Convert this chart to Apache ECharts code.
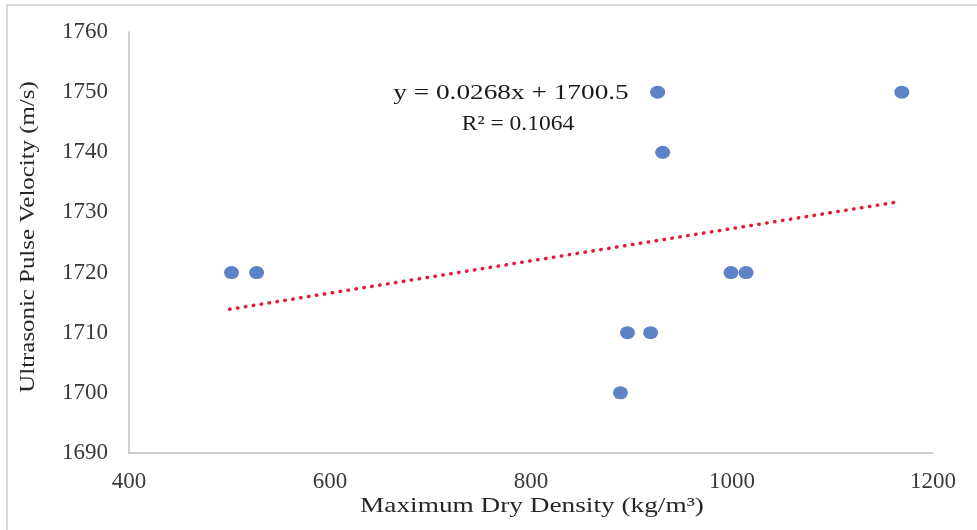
<!DOCTYPE html>
<html>
<head>
<meta charset="utf-8">
<script src="https://cdn.jsdelivr.net/npm/echarts@6/dist/echarts.min.js"></script>
<style>
  html, body { margin: 0; padding: 0; background: #fff; }
  #chart { width: 977px; height: 530px; }
</style>
</head>
<body>
<div id="chart"></div>
<script>
// measured points (density kg/m3, velocity m/s)
const density = [502, 527, 889, 896, 919, 926, 931, 999, 1014, 1169];
const velocity = [1720, 1720, 1700, 1710, 1710, 1750, 1740, 1720, 1720, 1750];
// linear trend line end points
const trendX = [500, 1167];
const trendY = [1713.9, 1731.8];
const equation = 'y = 0.0268x + 1700.5';
const rSquared = 'R² = 0.1064';
const xTitle = 'Maximum Dry Density (kg/m³)';
const yTitle = 'Ultrasonic Pulse Velocity (m/s)';

const font = '"Liberation Serif", "Times New Roman", serif';

let points = [];
for (let i = 0; i < density.length; i++) {
  points[i] = [density[i], velocity[i]];
}
let trend = [];
for (let i = 0; i < trendX.length; i++) {
  trend[i] = [trendX[i], trendY[i]];
}

const myChart = echarts.init(document.getElementById('chart'));
myChart.setOption({
  animation: false,
  grid: { left: 129, right: 44, top: 32, bottom: 77 },
  graphic: [
    {
      type: 'polyline',
      shape: { points: [[7, 530], [7, 5], [977, 5]] },
      style: { stroke: '#d9d9d9', lineWidth: 2, fill: null }
    },
    // trend line label, text in the picture is drawn wide
    {
      type: 'text',
      x: 511, y: 93, scaleX: 1.3,
      style: { text: equation, font: '21px ' + font, fill: '#1a1a1a', align: 'center', verticalAlign: 'middle' }
    },
    {
      type: 'text',
      x: 518, y: 124, scaleX: 1.12,
      style: { text: rSquared, font: '21px ' + font, fill: '#1a1a1a', align: 'center', verticalAlign: 'middle' }
    },
    // axis titles
    {
      type: 'text',
      x: 532, y: 506, scaleX: 1.24,
      style: { text: xTitle, font: '22px ' + font, fill: '#262626', align: 'center', verticalAlign: 'middle' }
    },
    {
      type: 'text',
      x: 28, y: 237, rotation: Math.PI / 2, scaleX: 1.13,
      style: { text: yTitle, font: '22px ' + font, fill: '#262626', align: 'center', verticalAlign: 'middle' }
    }
  ],
  xAxis: {
    type: 'value',
    min: 400, max: 1200, interval: 200,
    axisLine: { lineStyle: { color: '#bfbfbf', width: 1.5 } },
    axisTick: { show: false },
    splitLine: { show: false },
    axisLabel: {
      fontFamily: font, fontSize: 23, color: '#3a3a3a', margin: 17,
      formatter: (v) => String(v)
    }
  },
  yAxis: {
    type: 'value',
    min: 1690, max: 1760, interval: 10,
    axisLine: { show: true, lineStyle: { color: '#bfbfbf', width: 1.5 } },
    axisTick: { show: false },
    splitLine: { show: false },
    axisLabel: {
      fontFamily: font, fontSize: 23, color: '#3a3a3a', margin: 21,
      formatter: (v) => String(v)
    }
  },
  series: [
    {
      name: 'trend',
      type: 'line',
      data: trend,
      showSymbol: false,
      lineStyle: { color: '#e01c36', width: 3.5, type: [0.5, 7.5], cap: 'round' },
      z: 1
    },
    {
      name: 'UPV',
      type: 'scatter',
      data: points,
      symbolSize: [15, 13],
      itemStyle: { color: '#3563b8' },
      z: 2
    }
  ]
});
</script>
</body>
</html>
